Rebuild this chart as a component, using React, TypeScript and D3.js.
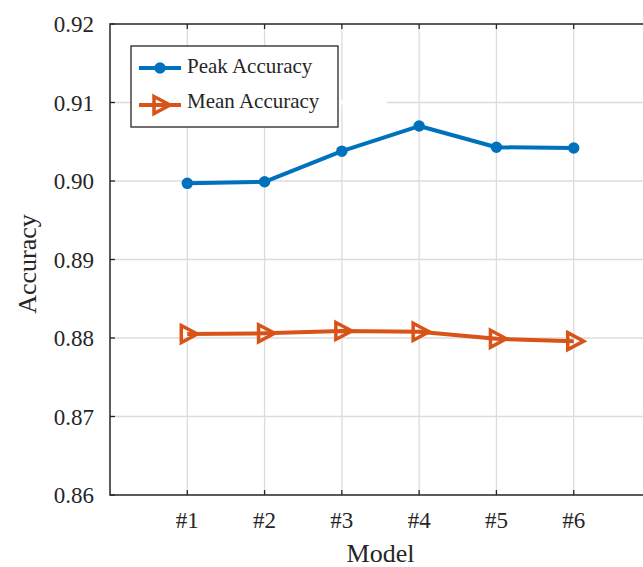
import React from 'react';
import * as d3 from 'd3';

const models = ['#1', '#2', '#3', '#4', '#5', '#6'];
const peakAccuracy = [0.8997, 0.8999, 0.9038, 0.907, 0.9043, 0.9042];
const meanAccuracy = [0.8805, 0.8806, 0.8809, 0.8808, 0.8799, 0.8796];
const yTicks = [0.86, 0.87, 0.88, 0.89, 0.9, 0.91, 0.92];

const W = 643;
const H = 567;
const FONT = '"Liberation Serif", "Times New Roman", serif';
const INK = '#262626';
const GRID = '#dcdcdc';
const BLUE = '#0072BD';
const ORANGE = '#D95319';

const App = () => {
  // plot box runs past the right edge of the picture (cropped like the original)
  const x = d3.scaleLinear().domain([0, 7]).range([110, 651]);
  const y = d3.scaleLinear().domain([0.86, 0.92]).range([495, 24]);
  const idx = d3.range(models.length);

  const line = d3
    .line<number>()
    .x((_, i) => x(i + 1))
    .y((v) => y(v));

  const peakPath = line(peakAccuracy);
  const meanPath = line(meanAccuracy);

  const tri = (cx: number, cy: number) =>
    `M${cx - 6},${cy - 8.5}L${cx + 10},${cy}L${cx - 6},${cy + 8.5}Z`;

  const [x0, x1] = x.range();
  const [yb, yt] = y.range();

  return (
    <svg
      width={W}
      height={H}
      style={{ position: 'absolute', left: 0, top: 0, background: '#fff' }}
      fontFamily={FONT}
    >
      {/* grid */}
      {idx.map((i) => (
        <line key={'gx' + i} x1={x(i + 1)} x2={x(i + 1)} y1={yt} y2={yb} stroke={GRID} strokeWidth={1.3} />
      ))}
      {yTicks.slice(1, -1).map((t) => (
        <line key={'gy' + t} x1={x0} x2={x1} y1={y(t)} y2={y(t)} stroke={GRID} strokeWidth={1.3} />
      ))}

      {/* axes box */}
      <path d={`M${x1},${yb}H${x0}V${yt}H${x1}`} fill="none" stroke={INK} strokeWidth={1.5} />
      {yTicks.map((t) => (
        <line key={'ty' + t} x1={x0} x2={x0 + 5} y1={y(t)} y2={y(t)} stroke={INK} strokeWidth={1.3} />
      ))}
      {idx.map((i) => (
        <g key={'tx' + i}>
          <line x1={x(i + 1)} x2={x(i + 1)} y1={yb} y2={yb - 5} stroke={INK} strokeWidth={1.3} />
          <line x1={x(i + 1)} x2={x(i + 1)} y1={yt} y2={yt + 5} stroke={INK} strokeWidth={1.3} />
        </g>
      ))}

      {/* tick labels */}
      {yTicks.map((t) => (
        <text key={'ly' + t} x={94} y={y(t)} dy="0.35em" textAnchor="end" fontSize={23} fill={INK}>
          {t.toFixed(2)}
        </text>
      ))}
      {models.map((m, i) => (
        <text key={'lx' + m} x={x(i + 1)} y={528} textAnchor="middle" fontSize={23} fill={INK}>
          {m}
        </text>
      ))}

      {/* axis labels */}
      <text x={x(3.5)} y={562} textAnchor="middle" fontSize={26} fill={INK}>
        Model
      </text>
      <text transform="translate(36,264) rotate(-90)" textAnchor="middle" fontSize={26} fill={INK}>
        Accuracy
      </text>

      {/* series */}
      <path d={peakPath ?? ''} fill="none" stroke={BLUE} strokeWidth={4} strokeLinejoin="round" />
      {peakAccuracy.map((v, i) => (
        <circle key={'p' + i} cx={x(i + 1)} cy={y(v)} r={4.5} fill={BLUE} stroke={BLUE} strokeWidth={2.5} />
      ))}
      <path d={meanPath ?? ''} fill="none" stroke={ORANGE} strokeWidth={4} strokeLinejoin="round" />
      {meanAccuracy.map((v, i) => (
        <path key={'m' + i} d={tri(x(i + 1), y(v))} fill="none" stroke={ORANGE} strokeWidth={3.5} strokeLinejoin="miter" />
      ))}

      {/* legend */}
      <rect x={338} y={y(0.91) - 2} width={49} height={4} fill="#fff" />
      <rect x={131} y={46} width={207} height={81} fill="#fff" stroke={INK} strokeWidth={1.3} />
      <line x1={139} x2={181} y1={68} y2={68} stroke={BLUE} strokeWidth={4} />
      <circle cx={160} cy={68} r={4.5} fill={BLUE} stroke={BLUE} strokeWidth={2.5} />
      <text x={187} y={73} fontSize={21} fill={INK}>
        Peak Accuracy
      </text>
      <line x1={139} x2={181} y1={105} y2={105} stroke={ORANGE} strokeWidth={4} />
      <path d={tri(160, 105)} fill="none" stroke={ORANGE} strokeWidth={3.5} />
      <text x={187} y={108} fontSize={21} fill={INK}>
        Mean Accuracy
      </text>
    </svg>
  );
};

export default App;
